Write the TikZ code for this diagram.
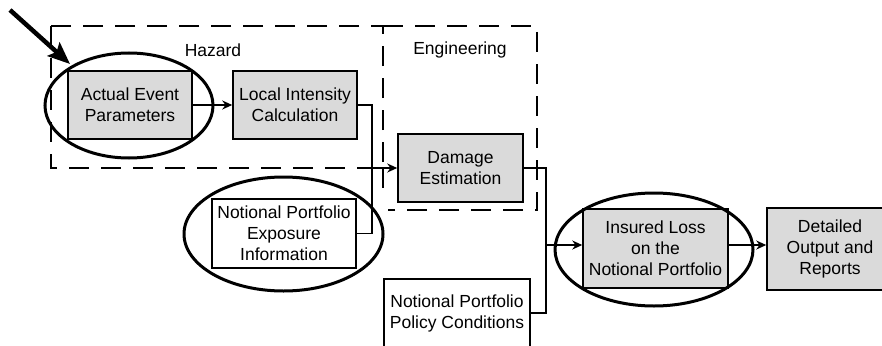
\documentclass[tikz,border=0pt]{standalone}
\usepackage{fontspec}
\setmainfont{Liberation Sans}
\usetikzlibrary{arrows.meta,shapes.geometric}
\definecolor{boxgray}{RGB}{218,218,218}
\tikzset{
  stage/.style={draw, line width=1.5pt, fill=boxgray, inner sep=0pt, align=center,
                font=\fontsize{17.5}{21}\selectfont},
  inputbox/.style={stage, fill=white},
  region/.style={draw, line width=1.4pt, dash pattern=on 20pt off 12pt},
  regionlabel/.style={font=\fontsize{17.5}{21}\selectfont, inner sep=0pt},
  ring/.style={ellipse, draw, line width=3pt, inner sep=0pt},
  link/.style={line width=1.5pt},
  arr/.style={link, -{Stealth[length=10pt,width=9pt]}},
  pointer/.style={line width=4.5pt, -{Stealth[length=22pt,width=18pt,inset=4pt]}}
}
\begin{document}
\begin{tikzpicture}[x=1pt,y=-1pt]
\clip (0,0) rectangle (882,345);

% dashed module regions (the shared edge is drawn once)
\draw[region] (51,26) rectangle (383,168);
\draw[region] (383,26) -- (537,26) -- (537,210) -- (388,210);
\draw[region] (383,168) -- (383,196);
\node[regionlabel] (hazlbl) at (213,50) {Hazard};
\node[regionlabel] (englbl) at (460,50) {Engineering};

% process boxes
\node[stage, minimum width=124pt, minimum height=68pt] (actual) at (130,105) {Actual Event\\Parameters};
\node[stage, minimum width=124pt, minimum height=68pt] (local) at (295,105) {Local Intensity\\Calculation};
\node[stage, minimum width=125pt, minimum height=68pt] (damage) at (460.5,168) {Damage\\Estimation};
\node[inputbox, minimum width=144pt, minimum height=69pt] (expo) at (284,233.5) {Notional Portfolio\\Exposure\\Information};
\node[inputbox, minimum width=146pt, minimum height=68pt] (policy) at (457,313) {Notional Portfolio\\Policy Conditions};
\node[stage, minimum width=145pt, minimum height=79pt] (insured) at (655.5,248.5) {Insured Loss\\on the\\Notional Portfolio};
\node[stage, minimum width=126pt, minimum height=82pt] (detailed) at (830,249) {Detailed\\Output and\\Reports};

% junction points of the connectors
\coordinate (m1) at (372,168);
\coordinate (m2) at (546,245);

% connectors
\draw[arr] (actual) -- (local);
\draw[arr] (local.east) -| (m1) -- (damage.west);
\draw[link] (expo.east) -| (m1);
\draw[link] (damage.east) -| (m2);
\draw[link] (policy.east) -| (m2);
\draw[arr] (m2) -- (m2 -| insured.west);
\draw[arr] (insured.east |- m2) -- (detailed.west |- m2);

% highlight rings
\node[ring, minimum width=168pt, minimum height=105pt] (ringA) at (129,105.5) {};
\node[ring, minimum width=199pt, minimum height=114pt] (ringB) at (283.5,234) {};
\node[ring, minimum width=198pt, minimum height=113pt] (ringC) at (654,249.5) {};

% pointer to the event parameters
\coordinate (ptail) at (10,10);
\draw[pointer] (ptail) -- (70,64);
\end{tikzpicture}
\end{document}
